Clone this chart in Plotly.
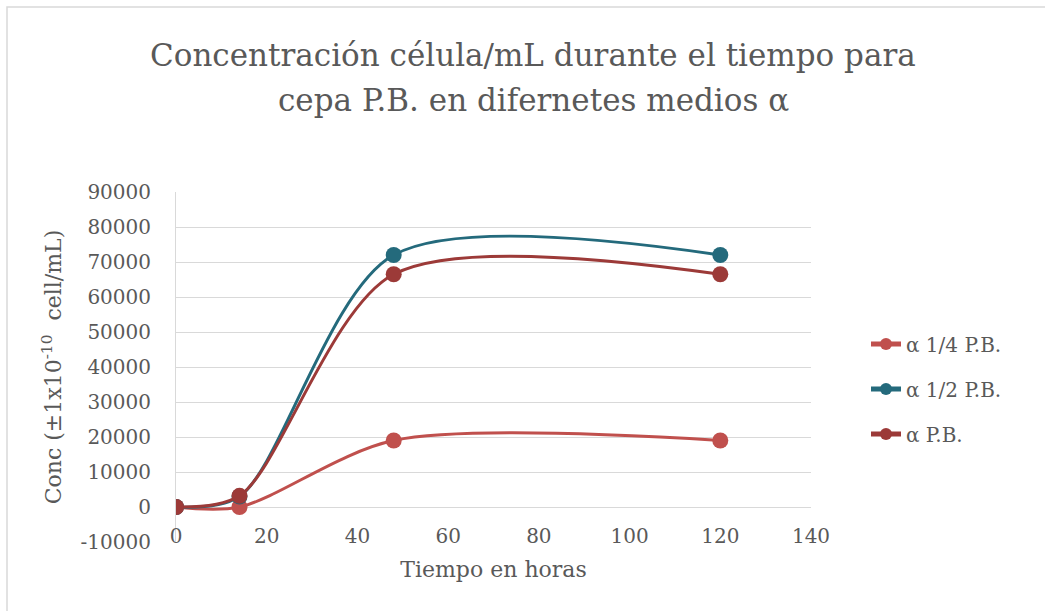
import plotly.graph_objects as go

hours = [0, 14, 48, 120]
s_quarter = [0, 0, 19000, 19000]
s_half = [0, 3000, 72000, 72000]
s_full = [0, 3200, 66500, 66500]
names = ["α 1/4 P.B.", "α 1/2 P.B.", "α P.B."]
colors = ["#C0504D", "#246A7C", "#9C3A38"]
x_ticks = [0, 20, 40, 60, 80, 100, 120, 140]
y_ticks = list(range(-10000, 90001, 10000))
title_lines = ["Concentración célula/mL durante el tiempo para",
               "cepa P.B. en difernetes medios α"]

FONT = "DejaVu Serif"
GRAY = "#595959"

fig = go.Figure()
for i, (name, vals, col) in enumerate(zip(names, [s_quarter, s_half, s_full], colors)):
    fig.add_trace(go.Scatter(
        x=hours, y=vals, name=name, mode="lines+markers", legendgroup=f"g{i}",
        line=dict(color=col, width=3, shape="spline", smoothing=0.85),
        marker=dict(color=col, size=16),
    ))

W, H = 1045, 611
L, R, T, B = 176, 811, 192, 542
pw, ph = R - L, B - T

def px(x):
    return (x - L) / pw

def py(y):
    return (B - y) / ph

annotations = []
for line, ycen in zip(title_lines, [55, 100]):
    annotations.append(dict(
        text=line, xref="paper", yref="paper", x=(533 - L) / pw, y=py(ycen),
        xanchor="center", yanchor="middle", showarrow=False,
        font=dict(family=FONT, size=31, color=GRAY),
    ))

fig.update_layout(
    width=W, height=H,
    margin=dict(l=L, r=W - R, t=T, b=H - B, autoexpand=False),
    paper_bgcolor="white", plot_bgcolor="white",
    font=dict(family=FONT, color=GRAY, size=20),
    annotations=annotations,
    showlegend=True,
    legend=dict(
        x=px(866), y=py(389), xanchor="left", yanchor="middle",
        font=dict(family=FONT, size=20, color=GRAY),
        tracegroupgap=16, itemsizing="constant",
        bgcolor="rgba(0,0,0,0)",
    ),
    xaxis=dict(
        range=[0, 140], tickvals=x_ticks, ticktext=[str(v) for v in x_ticks],
        showgrid=False, zeroline=False, showline=False,
        ticks="", tickfont=dict(family=FONT, size=20, color=GRAY),
        ticklabelstandoff=-20,
        title=dict(text="Tiempo en horas", font=dict(family=FONT, size=22, color=GRAY), standoff=14),
    ),
    yaxis=dict(
        range=[-10000, 90000], tickvals=y_ticks, ticktext=[str(v) for v in y_ticks],
        showgrid=True, gridcolor="#D9D9D9", gridwidth=1,
        zeroline=True, zerolinecolor="#D9D9D9", zerolinewidth=1,
        showline=True, linecolor="#D9D9D9", linewidth=1,
        ticks="", tickfont=dict(family=FONT, size=20, color=GRAY),
        ticklabelstandoff=20,
        title=dict(text="Conc (±1x10<sup>-10</sup>  cell/mL)", font=dict(family=FONT, size=22, color=GRAY), standoff=12),
    ),
    shapes=[dict(
        type="rect", xref="paper", yref="paper",
        x0=px(7), x1=px(1060), y0=py(620), y1=py(7),
        line=dict(color="#D9D9D9", width=1.5), fillcolor="rgba(0,0,0,0)", layer="below",
    )],
)

fig.write_html("out.html")
